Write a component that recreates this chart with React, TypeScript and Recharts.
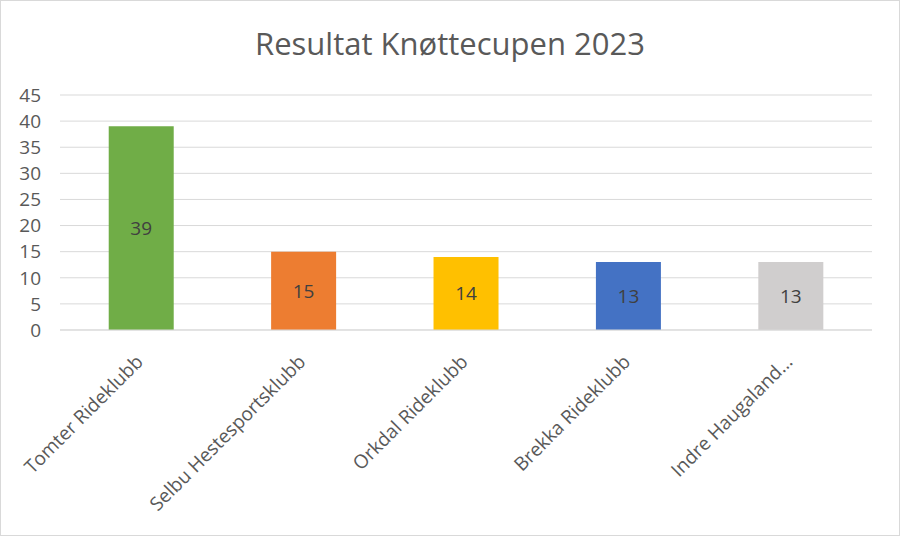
import { Bar, BarChart, CartesianGrid, Cell, LabelList, XAxis, YAxis } from 'recharts';

const TITLE = 'Resultat Knøttecupen 2023';
const CLUBS = [
  'Tomter Rideklubb',
  'Selbu Hestesportsklubb',
  'Orkdal Rideklubb',
  'Brekka Rideklubb',
  'Indre Haugaland…',
];
const POINTS = [39, 15, 14, 13, 13];
const BAR_COLORS = ['#70AD47', '#ED7D31', '#FFC000', '#4472C4', '#D0CECE'];
const Y_TICKS = [0, 5, 10, 15, 20, 25, 30, 35, 40, 45];

const FONT = '"Open Sans", "Noto Sans", sans-serif';

const data = CLUBS.map((club, i) => ({ club, points: POINTS[i] }));

function ClubTick({ x, y, payload }: any) {
  return (
    <g transform={`translate(${x + 3},${y + 25})`}>
      <text
        transform="rotate(-45)"
        textAnchor="end"
        fill="#595959"
        fontSize={19}
        fontFamily={FONT}
      >
        {payload.value}
      </text>
    </g>
  );
}

export default function App() {
  return (
    <div
      style={{
        position: 'fixed',
        left: 0,
        top: 0,
        width: 900,
        height: 536,
        background: '#fff',
        border: '1px solid #d9d9d9',
        boxSizing: 'border-box',
        fontFamily: FONT,
      }}
    >
      <div
        style={{
          position: 'absolute',
          top: 21,
          left: 0,
          width: '100%',
          textAlign: 'center',
          fontSize: 31,
          color: '#595959',
        }}
      >
        {TITLE}
      </div>
      <div style={{ position: 'absolute', left: -1, top: -1 }}>
        <BarChart
          width={900}
          height={536}
          data={data}
          margin={{ top: 95, right: 28, bottom: 6, left: 0 }}
          barCategoryGap="30%"
        >
          <CartesianGrid vertical={false} stroke="#d9d9d9" />
          <XAxis
            dataKey="club"
            height={200}
            interval={0}
            tickLine={false}
            axisLine={{ stroke: '#d9d9d9' }}
            tick={<ClubTick />}
          />
          <YAxis
            width={60}
            domain={[0, 45]}
            ticks={Y_TICKS}
            interval={0}
            tickLine={false}
            axisLine={false}
            tickMargin={13}
            tick={{ fill: '#595959', fontSize: 19, fontFamily: FONT }}
          />
          <Bar dataKey="points" isAnimationActive={false}>
            {data.map((d, i) => (
              <Cell key={d.club} fill={BAR_COLORS[i]} />
            ))}
            <LabelList
              dataKey="points"
              position="center"
              fill="#404040"
              fontSize={19}
              fontFamily={FONT}
            />
          </Bar>
        </BarChart>
      </div>
    </div>
  );
}
